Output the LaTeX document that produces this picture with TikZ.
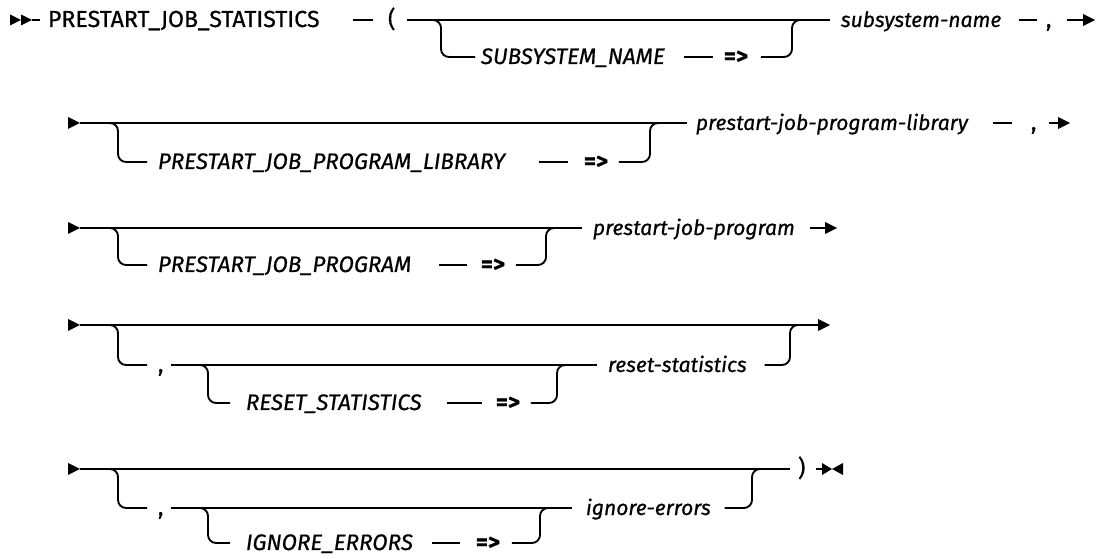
\documentclass[tikz,border=0pt]{standalone}
\usepackage{fontspec}
\setmainfont{Fira Sans}[FakeBold=0.6]
\newcommand\kwfont{\fontsize{17.4}{20}\selectfont}
\newcommand\optfont{\fontsize{16.8}{20}\selectfont\itshape}
\newcommand\varfont{\fontsize{15.8}{20}\selectfont\itshape}
\tikzset{every picture/.style={line width=1.4pt}}
\tikzset{
  kw/.style={anchor=west, inner xsep=0pt, inner ysep=0pt, text height=10.5pt, text depth=0pt, font=\kwfont},
  opt/.style={kw, font=\optfont},
  var/.style={kw, font=\varfont},
  eq/.style={kw, font=\kwfont\bfseries},
  tie/.style={rounded corners=6pt},
}

\begin{document}
\begin{tikzpicture}[x=0.75pt,y=0.75pt,yscale=-1,xscale=1]
	\path[use as bounding box] (0,0) rectangle (1100,559);

	% Text Node
	\node[kw] (r1kw) at (47,20) {PRESTART\_JOB\_STATISTICS};
	\node[kw] (r1lp) at (387,20) {(};
	\node[opt] (r1opt) at (480,57) {SUBSYSTEM\_NAME};
	\node[eq] (r1eq) at (723,57) {=>};
	\node[var] (r1var) at (840,20) {subsystem-name};
	\node[kw] (r1cm) at (1045,20) {,};
	% Text Node
	\node[opt] (r2opt) at (157,162) {PRESTART\_JOB\_PROGRAM\_LIBRARY};
	\node[eq] (r2eq) at (583,162) {=>};
	\node[var] (r2var) at (695,123) {prestart-job-program-library};
	\node[kw] (r2cm) at (1030,123) {,};
	% Text Node
	\node[opt] (r3opt) at (157,265) {PRESTART\_JOB\_PROGRAM};
	\node[eq] (r3eq) at (480,265) {=>};
	\node[var] (r3var) at (592,228) {prestart-job-program};
	% Text Node
	\node[kw] (r4cm) at (157,365) {,};
	\node[opt] (r4opt) at (245,403) {RESET\_STATISTICS};
	\node[eq] (r4eq) at (495,403) {=>};
	\node[var] (r4var) at (607,365) {reset-statistics};
	% Text Node
	\node[kw] (r5cm) at (157,508) {,};
	\node[opt] (r5opt) at (245,543) {IGNORE\_ERRORS};
	\node[eq] (r5eq) at (475,543) {=>};
	\node[var] (r5var) at (585,508) {ignore-errors};
	\node[kw] (r5rp) at (797,469) {)};

	% Markers
	\coordinate (r1s) at (32,20);
	\coordinate (r2s) at (80,123);
	\coordinate (r3s) at (80,228);
	\coordinate (r4s) at (80,325);
	\coordinate (r5s) at (80,469);
	\coordinate (r1e) at (1083,20);
	\coordinate (r2e) at (1058,123);
	\coordinate (r3e) at (825,228);
	\coordinate (r4e) at (818,325);
	\coordinate (r5e) at (822,469);
	\fill (10,14.5) -- (21,20) -- (10,25.5) -- cycle;
	\fill (21,14.5) -- (r1s) -- (21,25.5) -- cycle;
	\foreach \p in {r2s,r3s,r4s,r5s}
		\fill (\p) ++(-12,-6) -- (\p) -- ++(-12,6) -- cycle;
	\foreach \p in {r1e,r2e,r3e,r4e}
		\fill (\p) ++(0,-6) -- ++(12,6) -- ++(-12,6) -- cycle;
	\fill (r5e) ++(0,-6) -- ++(10,6) -- ++(-10,6) -- cycle;
	\fill (r5e) ++(21,-6) -- ++(-11,6) -- ++(11,6) -- cycle;

	%Straight Lines
	\draw (r1s) -- (40,20);
	\draw [shorten <=24pt, shorten >=10.5pt] (r1kw.east) -- (r1lp.west);
	\draw [shorten <=8pt, shorten >=7.5pt] (r1lp.east) -- (r1var.west);
	\draw [tie, shorten >=3.75pt] (433,20) -| (441,57) -- (r1opt.west);
	\draw [shorten <=13.5pt, shorten >=7.5pt] (r1opt.east) -- (r1eq.west);
	\draw [tie, shorten <=9pt] (r1eq.east) -| (792,20) -- (800,20);
	\draw [shorten <=12.75pt, shorten >=6pt] (r1var.east) -- (r1cm.west);
	\draw [shorten <=11.25pt] (r1cm.east) -- (r1e);

	%Straight Lines
	\draw [shorten >=6pt] (r2s) -- (r2var.west);
	\draw [tie, shorten >=7.5pt] (110,123) -| (118,162) -- (r2opt.west);
	\draw [shorten <=24.75pt, shorten >=11.25pt] (r2opt.east) -- (r2eq.west);
	\draw [tie, shorten <=7.5pt] (r2eq.east) -| (650,123) -- (657,123);
	\draw [shorten <=18pt, shorten >=13.5pt] (r2var.east) -- (r2cm.west);
	\draw [shorten <=9pt] (r2cm.east) -- (r2e);

	%Straight Lines
	\draw [shorten >=7.5pt] (r3s) -- (r3var.west);
	\draw [tie, shorten >=7.5pt] (110,228) -| (118,265) -- (r3opt.west);
	\draw [shorten <=20.25pt, shorten >=9.75pt] (r3opt.east) -- (r3eq.west);
	\draw [tie, shorten <=7.5pt] (r3eq.east) -| (546,228) -- (553,228);
	\draw [shorten <=11pt] (r3var.east) -- (r3e);

	%Straight Lines
	\draw (r4s) -- (r4e);
	\draw [tie, shorten >=7.5pt] (110,325) -| (118,365) -- (r4cm.west);
	\draw [shorten <=5.25pt, shorten >=7.5pt] (r4cm.east) -- (r4var.west);
	\draw [tie, shorten >=11.25pt] (200,365) -| (208,403) -- (r4opt.west);
	\draw [shorten <=18pt, shorten >=9.75pt] (r4opt.east) -- (r4eq.west);
	\draw [tie, shorten <=7.5pt] (r4eq.east) -| (557,365) -- (565,365);
	\draw [tie, shorten <=12.75pt] (r4var.east) -| (790,325) -- (800,325);

	%Straight Lines
	\draw [shorten >=5.25pt] (r5s) -- (r5rp.west);
	\draw [shorten <=7.5pt] (r5rp.east) -- (r5e);
	\draw [tie, shorten >=7.5pt] (110,469) -| (118,508) -- (r5cm.west);
	\draw [shorten <=5.25pt, shorten >=9.75pt] (r5cm.east) -- (r5var.west);
	\draw [tie, shorten >=11.25pt] (200,508) -| (208,543) -- (r5opt.west);
	\draw [shorten <=13.5pt, shorten >=11.25pt] (r5opt.east) -- (r5eq.west);
	\draw [tie, shorten <=8.25pt] (r5eq.east) -| (540,508) -- (548,508);
	\draw [tie, shorten <=9.75pt] (r5var.east) -| (752,469) -- (760,469);

\end{tikzpicture}
\end{document}
